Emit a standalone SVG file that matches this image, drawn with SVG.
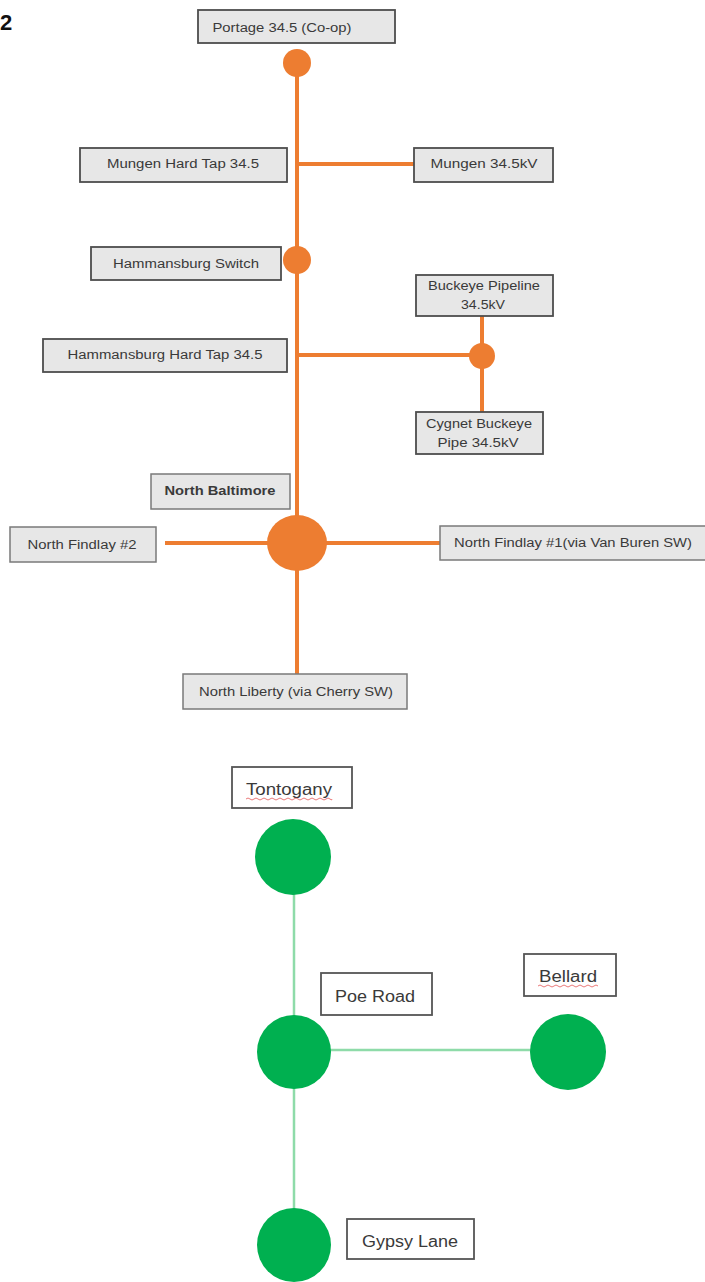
<svg xmlns="http://www.w3.org/2000/svg" width="705" height="1282" viewBox="0 0 705 1282">
<style>
.box{fill:#e7e7e7;stroke:#4d4d4d;stroke-width:1.8}
.box2{fill:#e7e7e7;stroke:#7a7a7a;stroke-width:1.5}
.wbox{fill:#ffffff;stroke:#555555;stroke-width:1.8}
.t{font-family:"Liberation Sans",Arial,sans-serif;font-size:12px;fill:#3a3a3a;text-anchor:middle;dominant-baseline:central}
.g{font-family:"Liberation Sans",Arial,sans-serif;font-size:16px;fill:#3a3a3a;text-anchor:middle;dominant-baseline:central}
.o{stroke:#ED7D31;stroke-width:4;fill:none}
.gl{stroke:#8EDBA9;stroke-width:2.5;fill:none}
.od{fill:#ED7D31}
.gd{fill:#00B050}
.sq{stroke:#e04040;stroke-width:1;fill:none;opacity:0.7}
</style>
<rect width="705" height="1282" fill="#ffffff"/>
<text x="0" y="30" font-family="Liberation Sans,Arial,sans-serif" font-size="22" font-weight="bold" fill="#111">2</text>
<g id="connectors">
<line class="o" x1="297" y1="63" x2="297" y2="676"/>
<line class="o" x1="297" y1="164" x2="414" y2="164"/>
<line class="o" x1="297" y1="355" x2="482" y2="355"/>
<line class="o" x1="482" y1="316" x2="482" y2="412"/>
<line class="o" x1="165" y1="543" x2="440" y2="543"/>
<line class="gl" x1="294" y1="857" x2="294" y2="1245"/>
<line class="gl" x1="294" y1="1050" x2="568" y2="1050"/>
</g>
<g id="portage">
<rect class="box" x="198" y="10" width="197" height="33"/>
<text class="t" x="282" y="28" textLength="139" lengthAdjust="spacingAndGlyphs">Portage 34.5 (Co-op)</text>
<circle class="od" cx="297" cy="63" r="14"/>
</g>
<g id="mungen-hard-tap">
<rect class="box" x="80" y="148" width="207" height="34"/>
<text class="t" x="183" y="164" textLength="152" lengthAdjust="spacingAndGlyphs">Mungen Hard Tap 34.5</text>
</g>
<g id="mungen">
<rect class="box" x="414" y="148" width="139" height="34"/>
<text class="t" x="484" y="164" textLength="107" lengthAdjust="spacingAndGlyphs">Mungen 34.5kV</text>
</g>
<g id="hammansburg-switch">
<rect class="box" x="91" y="247" width="190" height="33"/>
<text class="t" x="186" y="264" textLength="146" lengthAdjust="spacingAndGlyphs">Hammansburg Switch</text>
<circle class="od" cx="297" cy="260" r="14"/>
</g>
<g id="buckeye-pipeline">
<rect class="box" x="416" y="275" width="137" height="41"/>
<text class="t" x="484" y="286" textLength="112" lengthAdjust="spacingAndGlyphs">Buckeye Pipeline</text>
<text class="t" x="483" y="305" textLength="44" lengthAdjust="spacingAndGlyphs">34.5kV</text>
</g>
<g id="hammansburg-hard-tap">
<rect class="box" x="43" y="339" width="244" height="33"/>
<text class="t" x="165" y="355" textLength="195" lengthAdjust="spacingAndGlyphs">Hammansburg Hard Tap 34.5</text>
</g>
<g id="buckeye-junction">
<circle class="od" cx="482" cy="356" r="13"/>
</g>
<g id="cygnet">
<rect class="box" x="416" y="412" width="127" height="42"/>
<text class="t" x="479" y="424" textLength="106" lengthAdjust="spacingAndGlyphs">Cygnet Buckeye</text>
<text class="t" x="478" y="443" textLength="81" lengthAdjust="spacingAndGlyphs">Pipe 34.5kV</text>
</g>
<g id="north-baltimore">
<rect class="box2" x="151" y="474" width="139" height="35"/>
<text class="t" x="220" y="491" font-weight="bold" fill="#222" textLength="111" lengthAdjust="spacingAndGlyphs">North Baltimore</text>
<ellipse class="od" cx="297" cy="543" rx="30" ry="28"/>
</g>
<g id="north-findlay-2">
<rect class="box2" x="10" y="527" width="146" height="35"/>
<text class="t" x="82" y="545" textLength="109" lengthAdjust="spacingAndGlyphs">North Findlay #2</text>
</g>
<g id="north-findlay-1">
<rect class="box2" x="440" y="526" width="266" height="34"/>
<text class="t" x="573" y="543" textLength="238" lengthAdjust="spacingAndGlyphs">North Findlay #1(via Van Buren SW)</text>
</g>
<g id="north-liberty">
<rect class="box2" x="183" y="674" width="224" height="35"/>
<text class="t" x="296" y="692" textLength="194" lengthAdjust="spacingAndGlyphs">North Liberty (via Cherry SW)</text>
</g>
<g id="tontogany">
<rect class="wbox" x="232" y="767" width="120" height="41"/>
<text class="g" x="289" y="789" textLength="86" lengthAdjust="spacingAndGlyphs">Tontogany</text>
<path class="sq" d="M246 799 q2 -2 4 0 t4 0 t4 0 t4 0 t4 0 t4 0 t4 0 t4 0 t4 0 t4 0 t4 0 t4 0 t4 0 t4 0 t4 0 t4 0 t4 0 t4 0 t4 0 t4 0 t4 0 t2 0"/>
<circle class="gd" cx="293" cy="857" r="38"/>
</g>
<g id="poe-road">
<rect class="wbox" x="321" y="973" width="111" height="42"/>
<text class="g" x="375" y="996" textLength="80" lengthAdjust="spacingAndGlyphs">Poe Road</text>
<circle class="gd" cx="294" cy="1052" r="37"/>
</g>
<g id="bellard">
<rect class="wbox" x="524" y="954" width="92" height="42"/>
<text class="g" x="568" y="976" textLength="58" lengthAdjust="spacingAndGlyphs">Bellard</text>
<path class="sq" d="M538 986 q2 -2 4 0 t4 0 t4 0 t4 0 t4 0 t4 0 t4 0 t4 0 t4 0 t4 0 t4 0 t4 0 t4 0 t4 0 t4 0"/>
<circle class="gd" cx="568" cy="1052" r="38"/>
</g>
<g id="gypsy-lane">
<rect class="wbox" x="347" y="1219" width="127" height="40"/>
<text class="g" x="410" y="1241" textLength="96" lengthAdjust="spacingAndGlyphs">Gypsy Lane</text>
<circle class="gd" cx="294" cy="1245" r="37"/>
</g>
</svg>
